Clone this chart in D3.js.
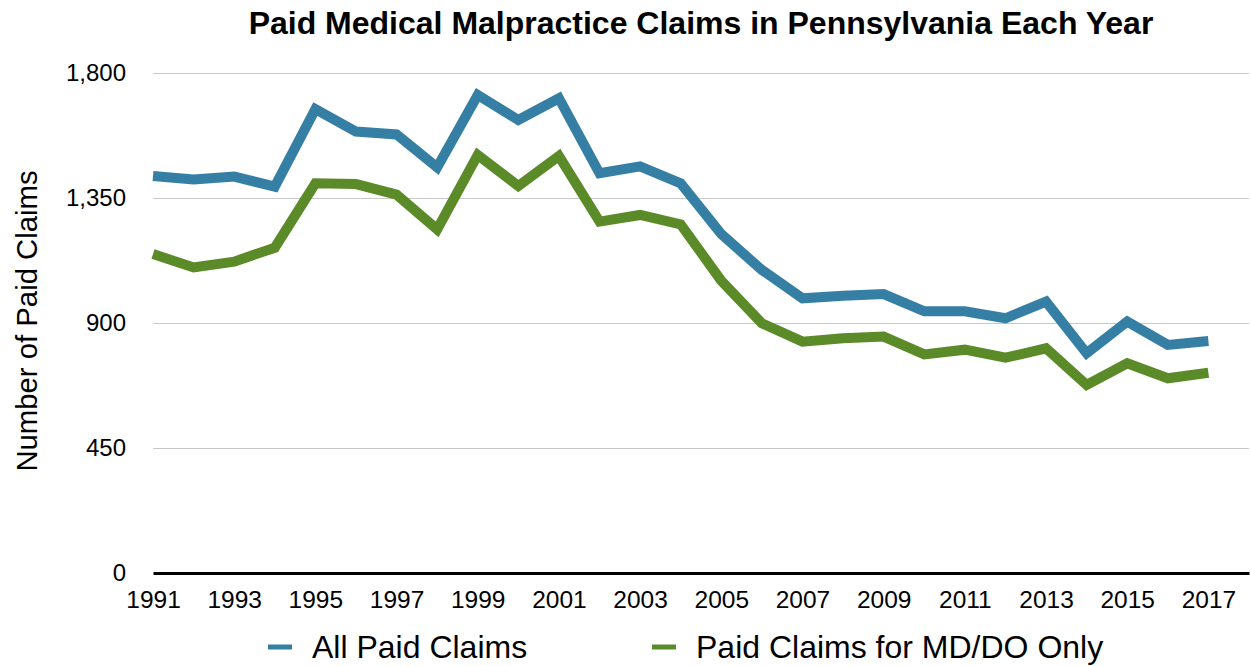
<!DOCTYPE html>
<html>
<head>
<meta charset="utf-8">
<script src="https://cdn.jsdelivr.net/npm/d3@7"></script>
<style>
  body { margin: 0; background: #fff; }
  text { font-family: "Liberation Sans", Helvetica, Arial, sans-serif; }
</style>
</head>
<body>
<div id="chart"></div>
<script>
// data
const years = d3.range(1991, 2018);
const allPaid = [1429, 1417, 1427, 1391, 1670, 1589, 1579, 1460, 1721, 1631, 1709,
                 1439, 1464, 1403, 1220, 1091, 989, 998, 1004, 942, 942,
                 917, 977, 791, 905, 821, 835];
const mdDoOnly = [1148, 1100, 1121, 1171, 1403, 1400, 1362, 1237, 1505, 1393, 1501,
                  1265, 1289, 1255, 1052, 899, 833, 845, 851, 787, 804,
                  775, 809, 677, 755, 701, 721];
const yTicks = [0, 450, 900, 1350, 1800];
const xTicks = d3.range(1991, 2018, 2);
const seriesNames = ["All Paid Claims", "Paid Claims for MD/DO Only"];
const colors = ["#367fa4", "#5b8a29"];

chart();

function chart() {
    let margin = { top: 73, right: 1, bottom: 93, left: 153 },
        width = 1250 - margin.left - margin.right,
        height = 666 - margin.top - margin.bottom;

    let svg = d3.select("#chart").append("svg")
        .attr("width", 1250)
        .attr("height", 666);

    let g = svg.append("g")
        .attr("transform", "translate(" + margin.left + "," + margin.top + ")");

    let x = d3.scaleLinear().domain([1991, 2018]).range([0, width]);
    let y = d3.scaleLinear().domain([0, 1800]).range([height, 0]);

    // grid lines
    g.append("g")
        .call(d3.axisLeft(y).tickValues(yTicks.slice(1)).tickSize(-width).tickFormat(""))
        .call(a => a.select(".domain").remove())
        .call(a => a.selectAll("line").attr("stroke", "#c8c8c8").attr("stroke-width", 1.2));

    // y tick labels
    g.append("g")
        .call(d3.axisLeft(y).tickValues(yTicks).tickSize(0).tickPadding(27).tickFormat(d3.format(",")))
        .call(a => a.select(".domain").remove())
        .call(a => a.selectAll("text").attr("font-size", 24).attr("fill", "#000")
            .attr("font-family", "Liberation Sans, Arial, sans-serif"));

    // x axis
    g.append("g")
        .attr("transform", "translate(0," + height + ")")
        .call(d3.axisBottom(x).tickValues(xTicks).tickSize(0).tickPadding(18).tickFormat(d3.format("d")))
        .call(a => a.select(".domain").attr("stroke", "#000").attr("stroke-width", 3))
        .call(a => a.selectAll("text").attr("font-size", 24.5).attr("fill", "#000")
            .attr("font-family", "Liberation Sans, Arial, sans-serif"));

    // lines
    let line = d3.line()
        .x((d, i) => x(years[i]))
        .y(d => y(d));

    [allPaid, mdDoOnly].forEach((s, i) => {
        g.append("path")
            .datum(s)
            .attr("fill", "none")
            .attr("stroke", colors[i])
            .attr("stroke-width", 10)
            .attr("stroke-linejoin", "miter")
            .attr("d", line);
    });

    // title
    svg.append("text")
        .attr("x", margin.left + width / 2)
        .attr("y", 34)
        .attr("text-anchor", "middle")
        .attr("font-size", 32)
        .attr("font-weight", "bold")
        .text("Paid Medical Malpractice Claims in Pennsylvania Each Year");

    // y axis title
    svg.append("text")
        .attr("transform", "rotate(-90)")
        .attr("x", -321)
        .attr("y", 37)
        .attr("text-anchor", "middle")
        .attr("font-size", 29.3)
        .text("Number of Paid Claims");

    // legend
    let legendX = [268, 652];
    seriesNames.forEach((name, i) => {
        let lg = svg.append("g").attr("transform", "translate(" + legendX[i] + ",647)");
        lg.append("line")
            .attr("x1", 0).attr("x2", 24)
            .attr("stroke", colors[i]).attr("stroke-width", 5);
        lg.append("text")
            .attr("x", 44).attr("y", 11)
            .attr("font-size", 32)
            .text(name);
    });
}
</script>
</body>
</html>
